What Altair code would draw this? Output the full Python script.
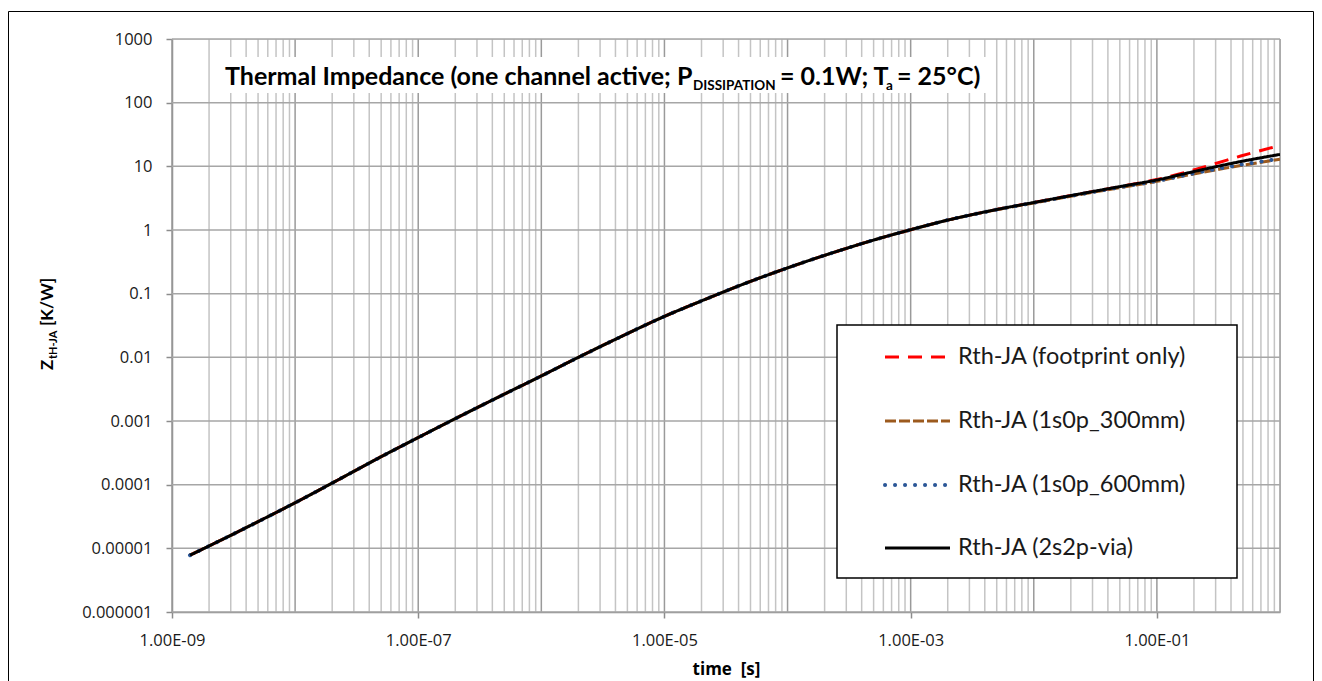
import altair as alt
import pandas as pd

# ---------------- data ----------------
times = [1.4e-9, 3e-9, 1e-8, 2e-8, 5e-8, 1e-7, 2e-7, 5e-7, 1e-6, 2e-6, 5e-6,
         1e-5, 2e-5, 3e-5, 5e-5, 1e-4, 2e-4, 5e-4, 1e-3, 2e-3, 5e-3, 1e-2,
         2e-2, 5e-2, 0.1, 0.16, 0.23, 0.48, 1.0]
z_common = [7.8e-6, 1.6e-5, 5.2e-5, 1.06e-4, 2.75e-4, 5.5e-4, 1.09e-3, 2.64e-3,
            5.1e-3, 1.0e-2, 2.36e-2, 4.4e-2, 7.7e-2, 0.106, 0.156, 0.254, 0.40,
            0.695, 1.01, 1.43]
z_2s2p = z_common + [2.1, 2.7, 3.47, 4.8, 6.1, 7.5, 8.8, 11.9, 15.4]
z_footprint = z_common + [2.1, 2.7, 3.47, 4.8, 6.2, 7.8, 9.5, 14.5, 21.3]
z_300 = z_common + [2.08, 2.66, 3.40, 4.62, 5.8, 7.0, 8.0, 10.3, 12.9]
z_600 = z_common + [2.09, 2.68, 3.43, 4.7, 5.9, 7.1, 8.2, 10.6, 13.2]

series_names = ["Rth-JA (footprint only)", "Rth-JA (1s0p_300mm)",
                "Rth-JA (1s0p_600mm)", "Rth-JA (2s2p-via)"]
series_values = [z_footprint, z_300, z_600, z_2s2p]
series_colors = ["#FF0000", "#9C5A1E", "#2B5797", "#000000"]
series_dash = [[14, 9], [11, 3], [0.1, 9.9], [1, 0]]
series_width = [3, 3, 4, 3]
series_cap = ["butt", "butt", "round", "butt"]

x_tick_values = [1e-9, 1e-7, 1e-5, 1e-3, 1e-1]
y_tick_values = [1e-6, 1e-5, 1e-4, 1e-3, 1e-2, 1e-1, 1, 10, 100, 1000]
x_minor_grid = [k * 10.0 ** n for n in range(-9, 0) for k in range(2, 10)]
x_major_grid = [10.0 ** n for n in range(-9, 1)]

# ---------------- layout ----------------
W, H = 1108, 573
PAD_L, PAD_T = 164, 31
FONT = "Lato"
LABEL_FONT = "Open Sans"

xscale = alt.Scale(type="log", domain=[1e-9, 1], nice=False)
yscale = alt.Scale(type="log", domain=[1e-6, 1000], nice=False)

x_label_expr = ("'1.00E-' + (round(-log(datum.value)/LN10) < 10 ? '0' : '') + "
                "round(-log(datum.value)/LN10)")
y_label_expr = ("datum.value >= 1 ? format(datum.value, 'd') : "
                "format(datum.value, '.' + round(-log(datum.value)/LN10) + 'f')")

x_axis = alt.Axis(values=x_tick_values, labelExpr=x_label_expr, grid=False,
                  title="time\u00a0 [s]", titleFont=LABEL_FONT, titleFontSize=17,
                  titleFontWeight="bold", titleColor="#000000",
                  titlePadding=13, labelFont=LABEL_FONT, labelFontSize=16.5,
                  labelColor="#1a1a1a", labelPadding=14, tickSize=6,
                  domainColor="#8C8C8C", tickColor="#8C8C8C",
                  domainWidth=1.5, tickWidth=1.5, labelFlush=False)
y_axis = alt.Axis(values=y_tick_values, labelExpr=y_label_expr, grid=False,
                  title=None, labelFont=LABEL_FONT, labelFontSize=16.5,
                  labelColor="#1a1a1a", labelPadding=14, tickSize=6,
                  domainColor="#8C8C8C", tickColor="#8C8C8C",
                  domainWidth=1.5, tickWidth=1.5, labelFlush=False)

rows = []
for name, vals in zip(series_names, series_values):
    for t, v in zip(times, vals):
        rows.append({"series": name, "t": t, "z": v})
df = pd.DataFrame(rows)

one = alt.Data(values=[{"a": 1}])

# outer chart frame (stroke only)
frame = alt.Chart(one).mark_rect(fillOpacity=0, stroke="#000000", strokeWidth=1).encode(
    x=alt.value(-163.5), x2=alt.value(1141.5), y=alt.value(-27.5), y2=alt.value(700))

minor = alt.Chart(pd.DataFrame({"t": x_minor_grid})).mark_rule(
    color="#C4C4C4", strokeWidth=1.5).encode(x=alt.X("t:Q", scale=xscale, axis=x_axis))
major = alt.Chart(pd.DataFrame({"t": x_major_grid})).mark_rule(
    color="#9A9A9A", strokeWidth=1.5).encode(x=alt.X("t:Q", scale=xscale, axis=x_axis))
hgrid = alt.Chart(pd.DataFrame({"z": y_tick_values})).mark_rule(
    color="#A6A6A6", strokeWidth=1.5).encode(y=alt.Y("z:Q", scale=yscale, axis=y_axis))

layers = [frame, minor, major, hgrid]

# title box + pieces
title_box = alt.Chart(one).mark_rect(fill="white").encode(
    x=alt.value(43), x2=alt.value(818), y=alt.value(18), y2=alt.value(54))
layers.append(title_box)


def txt(s, x, y, size, bold=True, angle=0, color="#000000", baseline="alphabetic",
        font=FONT):
    kw = dict(align="left", baseline=baseline, font=font, fontSize=size,
              fontWeight="bold" if bold else "normal", color=color)
    if angle:
        kw["angle"] = angle
    return alt.Chart(one).mark_text(**kw).encode(
        x=alt.value(x), y=alt.value(y), text=alt.value(s))


layers += [
    txt("Thermal Impedance (one channel active; P", 53, 46, 25),
    txt("DISSIPATION", 521, 51, 13.5),
    txt("= 0.1W; T", 608, 46, 25),
    txt("a", 714, 51, 13.5),
    txt("= 25°C)", 725, 46, 25),
]

# data lines
for i, name in enumerate(series_names):
    layers.append(
        alt.Chart(df).transform_filter(alt.datum.series == name).mark_line(
            color=series_colors[i], strokeDash=series_dash[i],
            strokeWidth=series_width[i], strokeCap=series_cap[i],
            interpolate="catmull-rom", clip=True
        ).encode(x=alt.X("t:Q", scale=xscale, axis=x_axis),
                 y=alt.Y("z:Q", scale=yscale, axis=y_axis), order="t:Q")
    )

# legend
legend_box = alt.Chart(one).mark_rect(fill="white", stroke="#000000", strokeWidth=1.5).encode(
    x=alt.value(665), x2=alt.value(1065), y=alt.value(286), y2=alt.value(539))
layers.append(legend_box)
legend_y = [318, 382, 446, 509]
for i, name in enumerate(series_names):
    layers.append(alt.Chart(one).mark_rule(
        color=series_colors[i], strokeDash=series_dash[i], strokeWidth=series_width[i],
        strokeCap=series_cap[i]).encode(
        x=alt.value(713), x2=alt.value(778), y=alt.value(legend_y[i])))
    layers.append(txt(name, 786, legend_y[i], 23.5, bold=False, color="#1a1a1a",
                      baseline="middle"))

# y title with subscript (rotated)
layers += [
    txt("Z", -119, 331, 17, angle=270),
    txt("tH-JA", -115, 320, 11, angle=270),
    txt("[K/W]", -119, 287, 17, angle=270),
]

chart = alt.layer(*layers).properties(
    width=W, height=H,
    autosize=alt.AutoSizeParams(type="none"),
    padding={"left": PAD_L, "top": PAD_T, "right": 34, "bottom": 72},
).configure_view(stroke=None).configure(background="white")

chart.save("out.html", embed_options={"renderer": "svg", "actions": False})
